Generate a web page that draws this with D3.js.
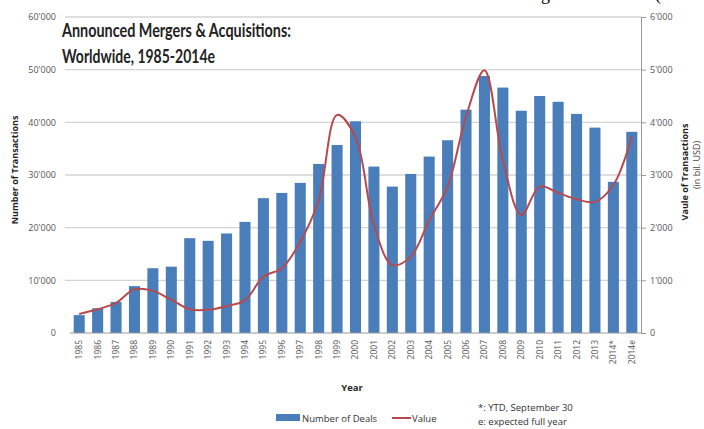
<!DOCTYPE html>
<html>
<head>
<meta charset="utf-8">
<script src="https://cdn.jsdelivr.net/npm/d3@7"></script>
<style>
html,body{margin:0;padding:0;background:#fff;}
svg{display:block;font-family:"Open Sans","DejaVu Sans",sans-serif;}
</style>
</head>
<body>
<svg id="chart" width="704" height="429"></svg>
<script>
const years = ["1985","1986","1987","1988","1989","1990","1991","1992","1993","1994","1995","1996","1997","1998","1999","2000","2001","2002","2003","2004","2005","2006","2007","2008","2009","2010","2011","2012","2013","2014*","2014e"];
const deals = [3400,4700,5900,8900,12300,12600,18000,17500,18900,21100,25600,26600,28500,32100,35700,40200,31600,27800,30200,33500,36600,42400,48800,46600,42200,45000,43900,41600,39000,28700,38200];
const valueBn = [360,450,570,830,800,630,450,440,510,620,1070,1230,1730,2520,4140,3720,2050,1290,1450,2140,2780,4110,4990,3280,2240,2780,2660,2540,2490,2810,3730];
const leftTicks = [0,10000,20000,30000,40000,50000,60000];
const rightTicks = [0,1000,2000,3000,4000,5000,6000];

const fmt = v => v === 0 ? "0" : d3.format(",")(v).replace(/,/g, "'");

const svg = d3.select("#chart");
const L = 70, R = 641, T = 17, B = 333;

const x = d3.scaleBand().domain(years).range([L, R]).paddingInner(0.4).paddingOuter(0.2);
const yL = d3.scaleLinear().domain([0, 60000]).range([B, T]);
const yR = d3.scaleLinear().domain([0, 6000]).range([B, T]);

// top-right clipped fragment of surrounding document
svg.append("text").attr("x", 541).attr("y", 0).attr("font-family", "Liberation Serif").attr("font-size", 18).attr("fill", "#000").text("g");
svg.append("text").attr("x", 655).attr("y", 0).attr("font-family", "Liberation Serif").attr("font-size", 18).attr("fill", "#000").text("(");

// gridlines
svg.append("g").selectAll("line").data(leftTicks.filter(d => d > 0)).join("line")
  .attr("x1", 65).attr("x2", R).attr("y1", d => yL(d)).attr("y2", d => yL(d))
  .attr("stroke", "#d4d4d4").attr("stroke-width", 1.3);

// left axis labels
const gl = svg.append("g").attr("transform", `translate(${L},0)`)
  .call(d3.axisLeft(yL).tickValues(leftTicks).tickFormat(fmt).tickSize(0).tickPadding(14));
gl.select(".domain").remove();
gl.selectAll("text").attr("font-size", 9).attr("fill", "#555").attr("font-family", "'Open Sans', sans-serif");

// right axis
const gr = svg.append("g").attr("transform", `translate(${R},0)`)
  .call(d3.axisRight(yR).tickValues(rightTicks).tickFormat(fmt).tickSize(5).tickPadding(4));
gr.select(".domain").attr("stroke", "#999");
gr.selectAll(".tick line").attr("stroke", "#999");
gr.selectAll("text").attr("font-size", 9).attr("fill", "#555").attr("font-family", "'Open Sans', sans-serif");

// bars
svg.append("g").selectAll("rect").data(years).join("rect")
  .attr("x", d => x(d)).attr("width", x.bandwidth())
  .attr("y", (d, i) => yL(deals[i])).attr("height", (d, i) => B - yL(deals[i]))
  .attr("fill", "#4a7ebb");

// bottom axis
const gx = svg.append("g").attr("transform", `translate(0,${B})`)
  .call(d3.axisBottom(x).tickSize(0).tickPadding(0));
gx.select(".domain").attr("stroke", "#999").attr("d", `M${L},0H${R}`);
gx.selectAll("text")
  .attr("transform", "rotate(-90)")
  .attr("text-anchor", "end")
  .attr("x", -7).attr("y", 0).attr("dy", "0.35em")
  .attr("font-size", 8.5).attr("fill", "#555").attr("font-family", "'Open Sans', sans-serif");

// value line
const line = d3.line()
  .x((d, i) => x(years[i]) + x.bandwidth() / 2)
  .y(d => yR(d))
  .curve(d3.curveCatmullRom.alpha(0.5));
svg.append("path").datum(valueBn).attr("d", line)
  .attr("fill", "none").attr("stroke", "#b84a4f").attr("stroke-width", 2);

// title
const title = svg.append("g").attr("font-family", "Lato, 'Open Sans', sans-serif").attr("font-weight", "bold").attr("fill", "#222");
title.append("text").attr("x", 62).attr("y", 37).attr("font-size", 19)
  .attr("textLength", 229).attr("lengthAdjust", "spacingAndGlyphs").text("Announced Mergers & Acquisitions:");
title.append("text").attr("x", 62).attr("y", 63).attr("font-size", 19)
  .attr("textLength", 153).attr("lengthAdjust", "spacingAndGlyphs").text("Worldwide, 1985-2014e");

// axis titles
svg.append("text").attr("transform", "translate(18,170) rotate(-90)").attr("text-anchor", "middle")
  .attr("font-size", 9).attr("font-weight", "bold").attr("fill", "#222").text("Number of Transactions");
svg.append("text").attr("transform", "translate(688,172) rotate(-90)").attr("text-anchor", "middle")
  .attr("font-size", 9).attr("font-weight", "bold").attr("fill", "#222").text("Vaule of Transactions");
svg.append("text").attr("transform", "translate(700,165) rotate(-90)").attr("text-anchor", "middle")
  .attr("font-size", 9).attr("fill", "#444").text("(in bil. USD)");
svg.append("text").attr("x", 352).attr("y", 391).attr("text-anchor", "middle")
  .attr("font-size", 9.5).attr("font-weight", "bold").attr("fill", "#222").text("Year");

// legend
const lg = svg.append("g");
lg.append("rect").attr("x", 276).attr("y", 414).attr("width", 24).attr("height", 7).attr("fill", "#4a7ebb");
lg.append("text").attr("x", 302).attr("y", 422).attr("font-size", 9.5).attr("fill", "#333").text("Number of Deals");
lg.append("line").attr("x1", 392).attr("x2", 411).attr("y1", 418).attr("y2", 418).attr("stroke", "#b84a4f").attr("stroke-width", 2);
lg.append("text").attr("x", 412).attr("y", 422).attr("font-size", 9.5).attr("fill", "#333").text("Value");

// notes
svg.append("text").attr("x", 478).attr("y", 411).attr("font-size", 9.5).attr("fill", "#333").text("*: YTD, September 30");
svg.append("text").attr("x", 478).attr("y", 425).attr("font-size", 9.5).attr("fill", "#333").text("e: expected full year");
</script>
</body>
</html>
